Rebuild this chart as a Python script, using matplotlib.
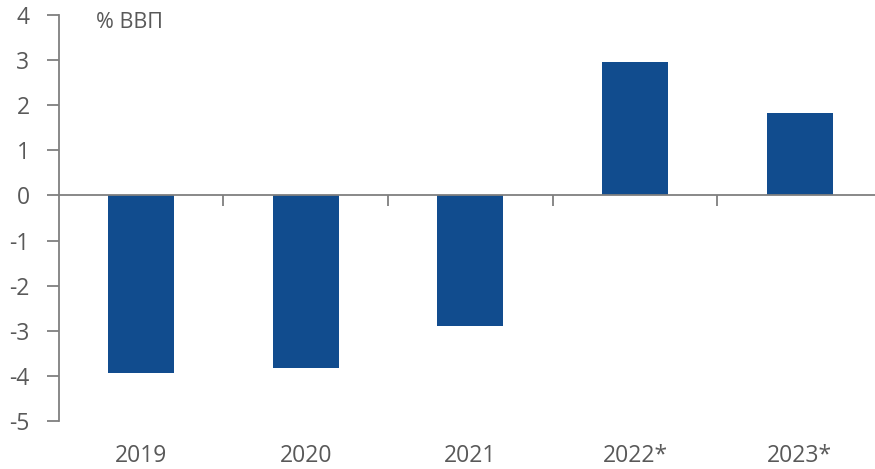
import matplotlib
matplotlib.use("Agg")
import matplotlib.pyplot as plt

categories = ["2019", "2020", "2021", "2022*", "2023*"]
values = [-3.95, -3.83, -2.89, 2.97, 1.82]
yticks = [-5, -4, -3, -2, -1, 0, 1, 2, 3, 4]
unit_label = "% ВВП"

plt.rcParams['font.family'] = ['Open Sans', 'DejaVu Sans']

fig = plt.figure(figsize=(8.75, 4.69), dpi=100)
ax = fig.add_axes([58.7/875, (469-420.7)/469, (875-58.7)/875, (420.7-15.3)/469])

x = list(range(len(categories)))
ax.bar(x, values, width=0.4, color="#114C8E", zorder=2)

gray = "#7f7f7f"
txt = "#595959"
ax.set_ylim(-5, 4)
ax.set_xlim(-0.5, 4.5 - 7/164.7)
ax.set_yticks(yticks)
ax.set_yticklabels([str(t) for t in yticks])
ax.tick_params(axis='y', direction='out', length=9, width=1.3, color=gray,
               labelcolor=txt, labelsize=16.5, pad=12)

for s in ['top', 'right']:
    ax.spines[s].set_visible(False)
ax.spines['left'].set_color(gray)
ax.spines['left'].set_linewidth(1.3)
ax.spines['bottom'].set_position(('data', 0))
ax.spines['bottom'].set_color(gray)
ax.spines['bottom'].set_linewidth(1.3)
ax.spines['bottom'].set_zorder(3)

ax.set_xticks([i + 0.5 for i in range(len(categories) - 1)])
ax.set_xticklabels([])
ax.tick_params(axis='x', direction='out', length=8, width=1.3, color=gray)

for i, c in enumerate(categories):
    ax.text(i, -0.087, c, transform=ax.get_xaxis_transform(), ha='center', va='center',
            fontsize=16.5, color=txt)

ax.text(96/875, 1 - 23/469, unit_label, transform=fig.transFigure, ha='left', va='center',
        fontsize=15.5, color=txt)

fig.savefig("out.png", dpi=100)
